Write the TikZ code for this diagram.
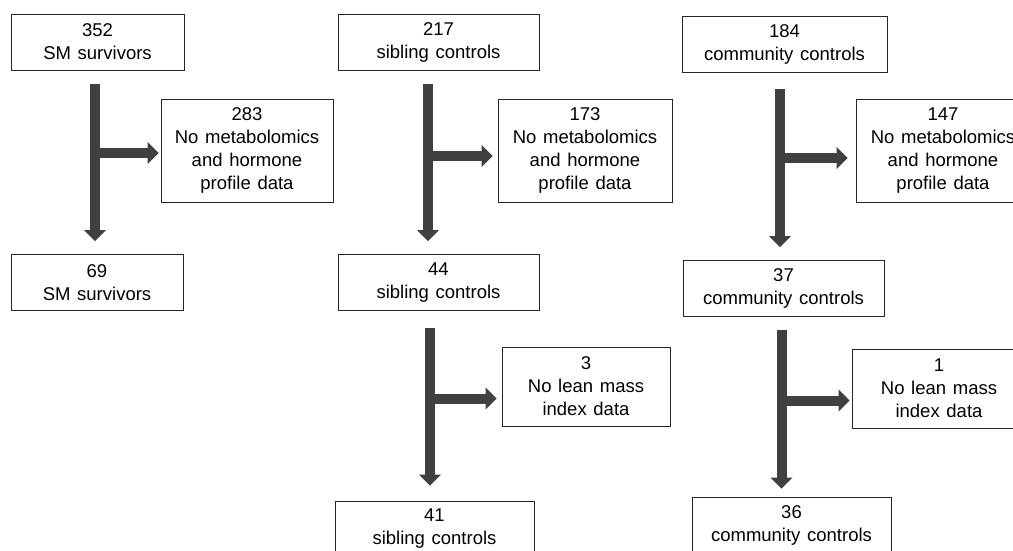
\documentclass[tikz,border=0pt]{standalone}
\usepackage{fontspec}
\setmainfont[WordSpace={1.3}]{Liberation Sans}
\usetikzlibrary{arrows.meta, positioning}

\definecolor{arrowgray}{HTML}{404040}
\tikzset{
  box/.style={draw=black!85, line width=0.8pt, align=center, inner sep=0pt,
    font=\fontsize{18.5}{23}\selectfont, minimum height=56pt},
  bigbox/.style={box, minimum height=103pt},
  midbox/.style={box, minimum height=79pt},
  flow/.style={draw=arrowgray, line width=10pt,
    -{Triangle[width=22pt, length=11pt, line width=0pt]}},
}

\begin{document}
\begin{tikzpicture}[x=1pt, y=-1pt]
  \useasboundingbox (0,0) rectangle (1013,550);

  % SM survivors
  \node[box, minimum width=173pt] (sm1) at (97.5,42) {352\\SM survivors};
  \node[bigbox, minimum width=172pt] (smno) at (247,150.5) {283\\No metabolomics\\and hormone\\profile data};
  \node[box, minimum width=172pt] (sm2) at (97,282.5) {69\\SM survivors};

  % sibling controls
  \node[box, minimum width=201pt] (sib1) at (438.5,42) {217\\sibling controls};
  \node[bigbox, minimum width=174pt] (sibno) at (585,150.5) {173\\No metabolomics\\and hormone\\profile data};
  \node[box, minimum width=201pt] (sib2) at (438.5,282.5) {44\\sibling controls};
  \node[midbox, minimum width=168pt] (siblm) at (586,386.5) {3\\No lean mass\\index data};
  \node[box, minimum width=199pt] (sib3) at (434.5,529) {41\\sibling controls};

  % community controls
  \node[box, minimum width=205pt] (com1) at (784.5,44) {184\\community controls};
  \node[bigbox, minimum width=174pt] (comno) at (943,150.5) {147\\No metabolomics\\and hormone\\profile data};
  \node[box, minimum width=201pt] (com2) at (783.5,288.5) {37\\community controls};
  \node[midbox, minimum width=174pt] (comlm) at (939,388.5) {1\\No lean mass\\index data};
  \node[box, minimum width=199pt] (com3) at (791.5,525) {36\\community controls};

  % arrows
  \draw[flow] ([xshift=-2.5pt, yshift=-14pt]sm1.south) -- ([xshift=-2.5pt, yshift=13pt]sm1.south |- sm2.north);
  \draw[flow] ([xshift=-2.5pt, yshift=-2.5pt]sm1.south |- smno.west) -- ([xshift=-2pt, yshift=-2.5pt]smno.west);

  \draw[flow] ([xshift=-10.5pt, yshift=-14pt]sib1.south) -- ([xshift=-10.5pt, yshift=13pt]sib1.south |- sib2.north);
  \draw[flow] ([xshift=-10.5pt, yshift=-5.5pt]sib1.south |- sibno.west) -- ([xshift=-5pt, yshift=-5.5pt]sibno.west);
  \draw[flow] ([xshift=-8.5pt, yshift=-17pt]sib2.south) -- ([xshift=-8.5pt, yshift=15pt]sib2.south |- sib3.north);
  \draw[flow] ([xshift=-8.5pt, yshift=-12pt]sib2.south |- siblm.west) -- ([xshift=-5pt, yshift=-12pt]siblm.west);

  \draw[flow] ([xshift=-4.5pt, yshift=-17pt]com1.south) -- ([xshift=-4.5pt, yshift=13pt]com1.south |- com2.north);
  \draw[flow] ([xshift=-4.5pt, yshift=-7.5pt]com1.south |- comno.west) -- ([xshift=-8pt, yshift=-7.5pt]comno.west);
  \draw[flow] ([xshift=-2pt, yshift=-13pt]com2.south) -- ([xshift=-2pt, yshift=8pt]com2.south |- com3.north);
  \draw[flow] ([xshift=-2pt, yshift=-12pt]com2.south |- comlm.west) -- ([xshift=-2pt, yshift=-12pt]comlm.west);
\end{tikzpicture}
\end{document}
